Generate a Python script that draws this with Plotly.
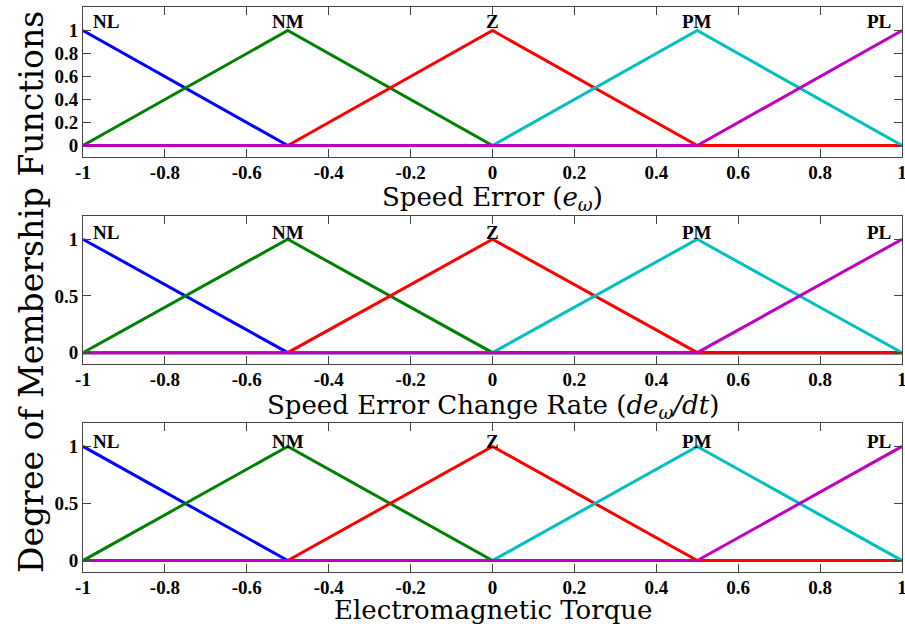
import plotly.graph_objects as go

x_pts = [-1.0, -0.5, 0.0, 0.5, 1.0]
set_names = ["NL", "NM", "Z", "PM", "PL"]
NL = [1, 0, 0, 0, 0]
NM = [0, 1, 0, 0, 0]
Z = [0, 0, 1, 0, 0]
PM = [0, 0, 0, 1, 0]
PL = [0, 0, 0, 0, 1]
series = [NL, NM, Z, PM, PL]
colors = ["#0000ff", "#008000", "#ff0000", "#00bfbf", "#bf00bf"]
label_x = [-0.945, -0.5, 0.0, 0.5, 0.945]
label_y = [1.075, 1.06, 1.045]

x_titles = ["Speed Error (<i>e</i><sub><i>ω</i></sub>)",
            "Speed Error Change Rate (<i>de</i><sub><i>ω</i></sub><i>/dt</i>)",
            "Electromagnetic Torque"]
xticks = [-1, -0.8, -0.6, -0.4, -0.2, 0, 0.2, 0.4, 0.6, 0.8, 1]
xtick_text = ["-1", "-0.8", "-0.6", "-0.4", "-0.2", "0", "0.2", "0.4", "0.6", "0.8", "1"]
yticks_top = [0, 0.2, 0.4, 0.6, 0.8, 1]
yticks_top_text = ["0", "0.2", "0.4", "0.6", "0.8", "1"]
yticks_other = [0, 0.5, 1]
yticks_other_text = ["0", "0.5", "1"]

W, H = 905, 629
ml, mr, mt, mb = 83, 3, 7, 57
pw = W - ml - mr
ph = H - mt - mb
# page-pixel top/bottom of each panel
panels_px = [(7, 157), (216, 364), (423, 572)]
title_px = [198, 406, 610]
domains = [[(H - mb - b) / ph, (H - mb - t) / ph] for t, b in panels_px]

serif = "Liberation Serif"
title_font = "DejaVu Serif"
fig = go.Figure()
for p in range(3):
    xa = "x" if p == 0 else f"x{p+1}"
    ya = "y" if p == 0 else f"y{p+1}"
    for s, c in zip(series, colors):
        fig.add_trace(go.Scatter(x=x_pts, y=s, mode="lines", xaxis=xa, yaxis=ya,
                                 line=dict(color=c, width=3), showlegend=False,
                                 hoverinfo="skip"))
    for name, lx in zip(set_names, label_x):
        fig.add_annotation(x=lx, y=label_y[p], xref=xa, yref=ya, text=f"<b>{name}</b>",
                           showarrow=False, font=dict(family=serif, size=19, color="black"))
    axkey = "" if p == 0 else str(p + 1)
    fig.layout["xaxis" + axkey] = dict(
        domain=[0, 1], anchor=ya, range=[-1, 1], tickvals=xticks,
        ticktext=[f"<b>{t}</b>" for t in xtick_text],
        ticks="inside", ticklen=8, tickcolor="#444", showline=True, linecolor="#444",
        linewidth=1, mirror="ticks", showgrid=False, zeroline=False, ticklabelstandoff=-2,
        ticklabeloverflow="allow",
        tickfont=dict(family=serif, size=19, color="black"))
    if p == 0:
        tv, tt = yticks_top, yticks_top_text
    else:
        tv, tt = yticks_other, yticks_other_text
    fig.layout["yaxis" + axkey] = dict(
        domain=domains[p], anchor=xa, range=[-0.1, 1.205], tickvals=tv,
        ticktext=[f"<b>{t}</b>" for t in tt],
        ticks="inside", ticklen=8, tickcolor="#444", showline=True, linecolor="#444",
        linewidth=1, mirror="ticks", showgrid=False, zeroline=False,
        tickfont=dict(family=serif, size=19, color="black"))
    ypaper = (H - mb - title_px[p]) / ph
    fig.add_annotation(x=0.5, y=ypaper, xref="paper", yref="paper", text=x_titles[p],
                       showarrow=False, yanchor="middle",
                       font=dict(family=title_font, size=26, color="black"))

fig.add_annotation(x=(31 - ml) / pw, y=(H - mb - 292) / ph, xref="paper", yref="paper",
                   text="Degree of Membership Functions", textangle=-90, showarrow=False,
                   xanchor="center", yanchor="middle",
                   font=dict(family=title_font, size=33, color="black"))

fig.update_layout(width=W, height=H, margin=dict(l=ml, r=mr, t=mt, b=mb, autoexpand=False),
                  plot_bgcolor="white", paper_bgcolor="white")
fig.write_html("out.html", config={"displayModeBar": False},
               post_script="document.body.style.margin='0';document.body.style.overflow='hidden';")
